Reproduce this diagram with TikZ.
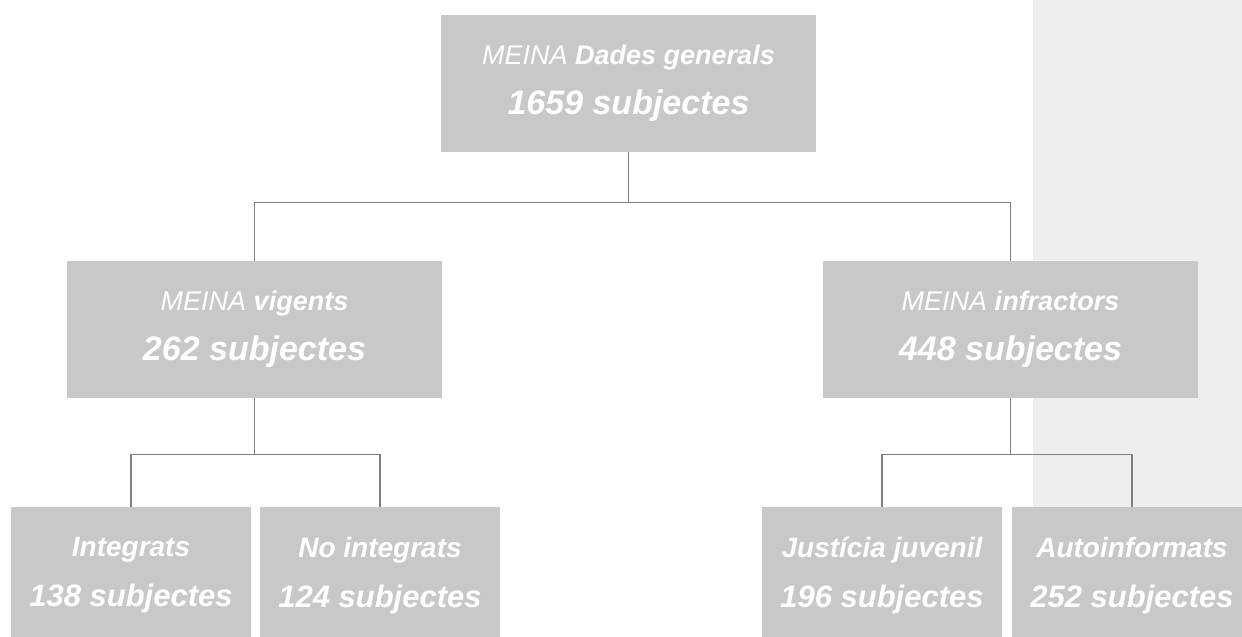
\documentclass[tikz,border=0pt]{standalone}
\usepackage{fontspec}
\setmainfont{Liberation Sans}
\definecolor{boxgrey}{HTML}{C8C8C8}
\definecolor{stripgrey}{HTML}{EEEEEE}
\definecolor{linegrey}{HTML}{808080}
\begin{document}
\begin{tikzpicture}[x=0.75pt,y=-0.75pt,
  grupbox/.style={fill=boxgrey,text=white,align=center,inner sep=0pt,
    minimum width=281.25pt,minimum height=102.75pt,
    font=\fontsize{25.5}{37.5}\selectfont\itshape},
  subbox/.style={grupbox,minimum width=180pt,
    font=\fontsize{23.25}{37.5}\selectfont\itshape\bfseries},
  enllac/.style={draw=linegrey,line width=1pt}]
\useasboundingbox (0,0) rectangle (1242,636);
\fill[stripgrey] (1033,0) rectangle (1242,636);
\node[grupbox] (total) at (628.5,83){{\fontsize{20.25}{24}\selectfont MEINA \bfseries Dades generals}\\\bfseries 1659 subjectes};
\node[grupbox] (vigents) at (254.5,329.5){{\fontsize{20.25}{24}\selectfont MEINA \bfseries vigents}\\\bfseries 262 subjectes};
\node[grupbox] (infractors) at (1010.5,329.5){{\fontsize{20.25}{24}\selectfont MEINA \bfseries infractors}\\\bfseries 448 subjectes};
\node[subbox] (integrats) at (131,575.5){{\fontsize{21}{24}\selectfont Integrats}\\138 subjectes};
\node[subbox] (nointegrats) at (380,575.5){{\fontsize{21}{24}\selectfont No integrats}\\124 subjectes};
\node[subbox] (justicia) at (882,575.5){{\fontsize{21}{24}\selectfont Justícia juvenil}\\196 subjectes};
\node[subbox] (autoinf) at (1132,575.5){{\fontsize{21}{24}\selectfont Autoinformats}\\252 subjectes};
\draw[enllac] (total.south) -- ++(0,51) -| (vigents.north);
\draw[enllac] (total.south) -- ++(0,51) -| (infractors.north);
\draw[enllac] (vigents.south) -- ++(0,56) -| (integrats.north);
\draw[enllac] (vigents.south) -- ++(0,56) -| (nointegrats.north);
\draw[enllac] (infractors.south) -- ++(0,56) -| (justicia.north);
\draw[enllac] (infractors.south) -- ++(0,56) -| (autoinf.north);
\end{tikzpicture}
\end{document}
